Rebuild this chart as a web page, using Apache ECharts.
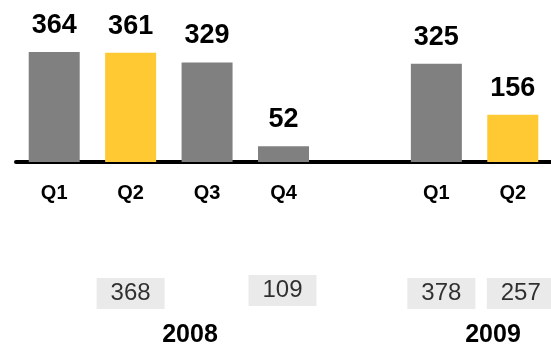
<!DOCTYPE html>
<html>
<head>
<meta charset="utf-8">
<script src="https://cdn.jsdelivr.net/npm/echarts@6/dist/echarts.min.js"></script>
<style>
  html, body { margin: 0; padding: 0; background: #ffffff; }
  #chart { width: 551px; height: 349px; }
</style>
</head>
<body>
<div id="chart"></div>
<script>
// Quarterly figures: 2008 Q1–Q4, an empty slot as a spacer, then 2009 Q1–Q2
const quarters = ['Q1', 'Q2', 'Q3', 'Q4', '', 'Q1', 'Q2'];
const quarterValues = [364, 361, 329, 52, null, 325, 156];
const highlighted = [false, true, false, false, false, false, true];

// Comparison figures shown in grey boxes under selected quarters
const boxSlots = [1, 3, 5, 6];
const boxValues = [368, 109, 378, 257];

// Year captions
const years = ['2008', '2009'];

const FONT = 'Arial, "Liberation Sans", sans-serif';
const GREY = '#808080';
const YELLOW = '#FFC933';

// small horizontal nudges for the boxes, in pixels
const boxNudge = [0, -1, 5, 8];

const chart = echarts.init(document.getElementById('chart'), null, { renderer: 'canvas' });

const barData = quarterValues.map((v, i) => ({
  value: v,
  itemStyle: { color: highlighted[i] ? YELLOW : GREY }
}));

const boxData = boxSlots.map((slot, i) => ({
  value: [slot, 0, boxValues[i]],
  symbolOffset: [boxNudge[i], i === 1 ? -3 : 0]
}));

chart.setOption({
  animation: false,
  backgroundColor: '#ffffff',
  grid: [
    { left: 16, width: 536, top: 41, height: 121, containLabel: false },
    { left: 16, width: 536, top: 278, height: 31, containLabel: false }
  ],
  xAxis: [
    {
      type: 'category',
      gridIndex: 0,
      data: quarters,
      offset: 2,
      axisTick: { show: false },
      axisLine: { lineStyle: { color: '#000000', width: 4 } },
      axisLabel: {
        color: '#000000',
        fontFamily: FONT,
        fontWeight: 'bold',
        fontSize: 20,
        margin: 19
      },
      splitLine: { show: false }
    },
    {
      type: 'category',
      gridIndex: 1,
      data: quarters,
      show: false
    }
  ],
  yAxis: [
    { type: 'value', gridIndex: 0, min: 0, max: 400, show: false },
    { type: 'category', gridIndex: 1, data: [''], show: false }
  ],
  series: [
    {
      type: 'bar',
      xAxisIndex: 0,
      yAxisIndex: 0,
      data: barData,
      barWidth: 51,
      z: 3,
      label: {
        show: true,
        position: 'top',
        distance: 13,
        color: '#000000',
        fontFamily: FONT,
        fontWeight: 'bold',
        fontSize: 27
      }
    },
    {
      type: 'scatter',
      xAxisIndex: 1,
      yAxisIndex: 1,
      data: boxData,
      symbol: 'rect',
      symbolSize: [68, 31],
      clip: false,
      itemStyle: { color: '#E5E5E5' },
      label: {
        show: true,
        position: 'inside',
        color: '#000000',
        textBorderWidth: 0,
        fontFamily: FONT,
        fontSize: 24,
        formatter: p => String(p.value[2])
      }
    }
  ],
  graphic: [
    {
      type: 'text',
      x: 190,
      y: 323,
      style: {
        text: years[0],
        fill: '#000000',
        font: 'bold 25px ' + FONT,
        textAlign: 'center',
        textVerticalAlign: 'top'
      }
    },
    {
      type: 'text',
      x: 493,
      y: 323,
      style: {
        text: years[1],
        fill: '#000000',
        font: 'bold 25px ' + FONT,
        textAlign: 'center',
        textVerticalAlign: 'top'
      }
    }
  ]
});
</script>
</body>
</html>
